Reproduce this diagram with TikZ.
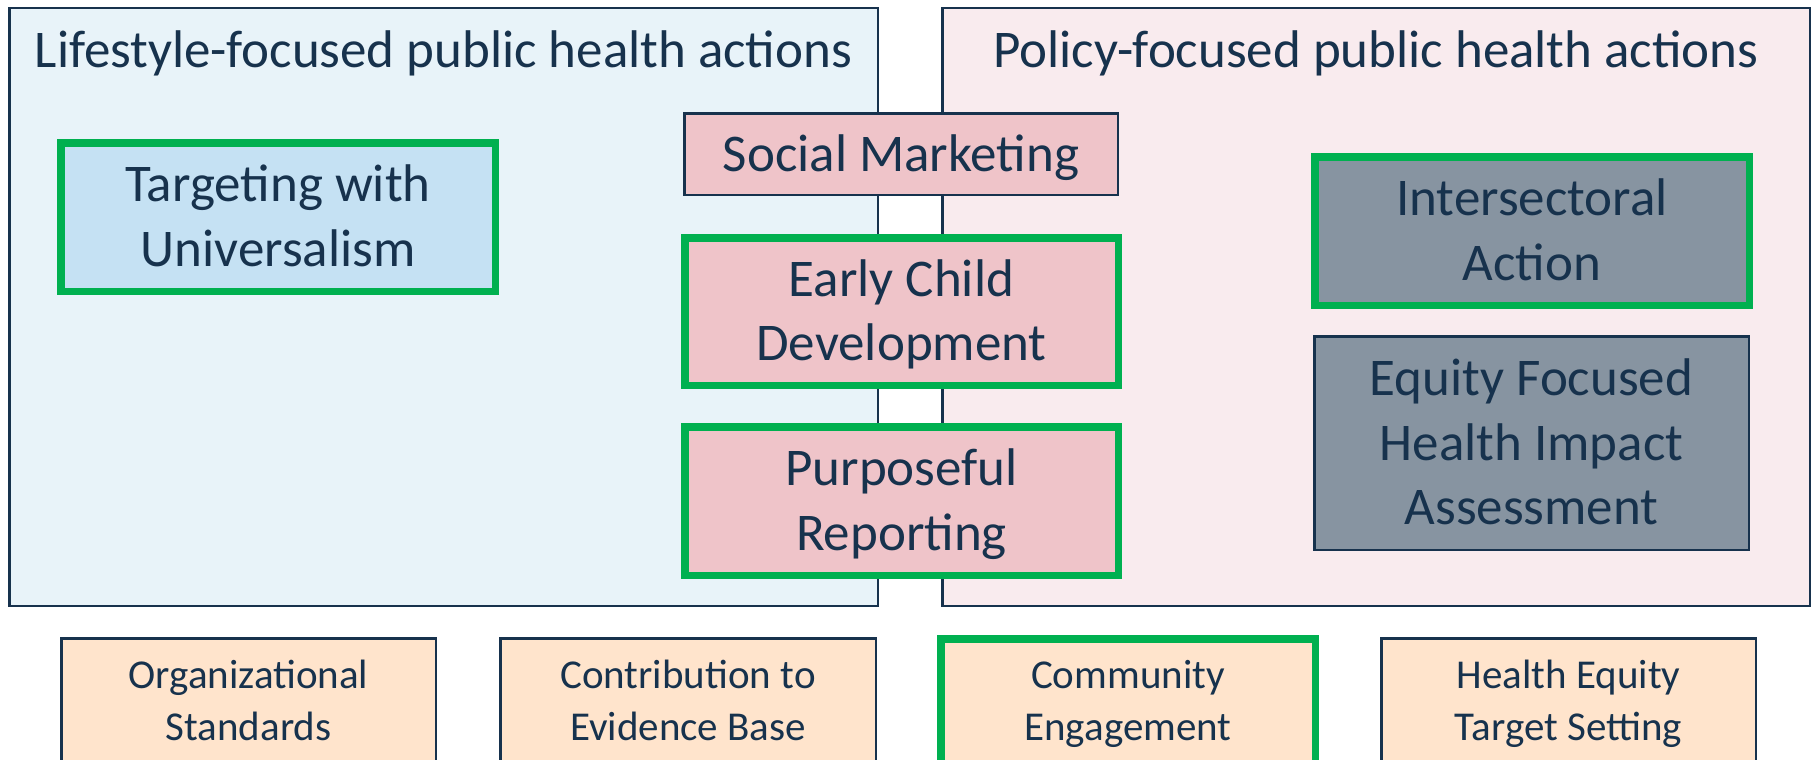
\documentclass[tikz,border=0pt]{standalone}
\usepackage{fontspec}
\setmainfont{Carlito}
\definecolor{navy}{HTML}{17324D}
\definecolor{okgreen}{HTML}{00B050}
\definecolor{lpanel}{HTML}{E8F3F9}
\definecolor{rpanel}{HTML}{F9EBEE}
\definecolor{bluefill}{HTML}{C5E1F3}
\definecolor{pinkfill}{HTML}{EFC4C9}
\definecolor{grayfill}{HTML}{8794A1}
\definecolor{orangefill}{HTML}{FFE4CC}
\begin{document}
\begin{tikzpicture}[x=1pt,y=-1pt,
  panel/.style={draw=navy, line width=2.5pt, inner sep=0pt},
  titletext/.style={text=navy, font=\fontsize{53}{64.5}\selectfont, inner sep=0pt, anchor=base},
  thinbox/.style={draw=navy, line width=2.5pt, text=navy, align=center, inner sep=0pt,
    font=\fontsize{53}{64.8}\selectfont, text depth=0pt},
  one/.style={text height=34.1pt},
  two/.style={text height=98.9pt},
  three/.style={text height=163.7pt},
  greenbox/.style={thinbox, draw=okgreen, line width=7.5pt},
  lowbox/.style={draw=navy, line width=2.5pt, fill=orangefill, text=navy, align=center, inner sep=0pt,
    outer sep=0pt, font=\fontsize{41}{52}\selectfont, minimum height=126pt, anchor=north,
    text depth=0pt, text height=78.4pt},
  lowgreen/.style={lowbox, draw=okgreen, line width=7.5pt, minimum height=125pt}
]
\useasboundingbox (0,0) rectangle (1815,760);
\clip (0,0) rectangle (1815,760);
\fill[white] (0,0) rectangle (1815,760);

% panels
\node[panel, fill=lpanel, minimum width=868.5pt, minimum height=597.5pt] (lp) at (443.5,307) {};
\node[panel, fill=rpanel, minimum width=867.5pt, minimum height=597.5pt] (rp) at (1376,307) {};
\node[titletext] (lt) at (443.5,67) {Lifestyle-focused public health actions};
\node[titletext] (rt) at (1376,67) {Policy-focused public health actions};

% boxes
\node[greenbox, two, fill=bluefill, minimum width=434.5pt, minimum height=148.5pt] (tu) at (278,217) {Targeting with\\Universalism};
\node[thinbox, one, fill=pinkfill, minimum width=433.5pt, minimum height=81.5pt] (sm) at (901,154) {Social Marketing};
\node[greenbox, two, fill=pinkfill, minimum width=433.5pt, minimum height=147.5pt] (ecd) at (901.5,311.5) {Early Child\\Development};
\node[greenbox, two, fill=pinkfill, minimum width=433.5pt, minimum height=148.5pt] (pr) at (901.5,501) {Purposeful\\Reporting};
\node[greenbox, two, fill=grayfill, minimum width=434.5pt, minimum height=148.5pt] (ia) at (1532,231) {Intersectoral\\Action};
\node[thinbox, three, fill=grayfill, minimum width=434.5pt, minimum height=213.5pt] (hia) at (1531.5,443) {Equity Focused\\Health Impact\\Assessment};

% bottom row
\node[lowbox, minimum width=374.5pt] (os) at (248.5,638.25) {Organizational\\Standards};
\node[lowbox, minimum width=375.5pt] (ceb) at (688,638.25) {Contribution to\\Evidence Base};
\node[lowgreen, minimum width=374.5pt] (ce) at (1128,638.75) {Community\\Engagement};
\node[lowbox, minimum width=374.5pt] (hets) at (1568.5,638.25) {Health Equity\\Target Setting};
\end{tikzpicture}
\end{document}
